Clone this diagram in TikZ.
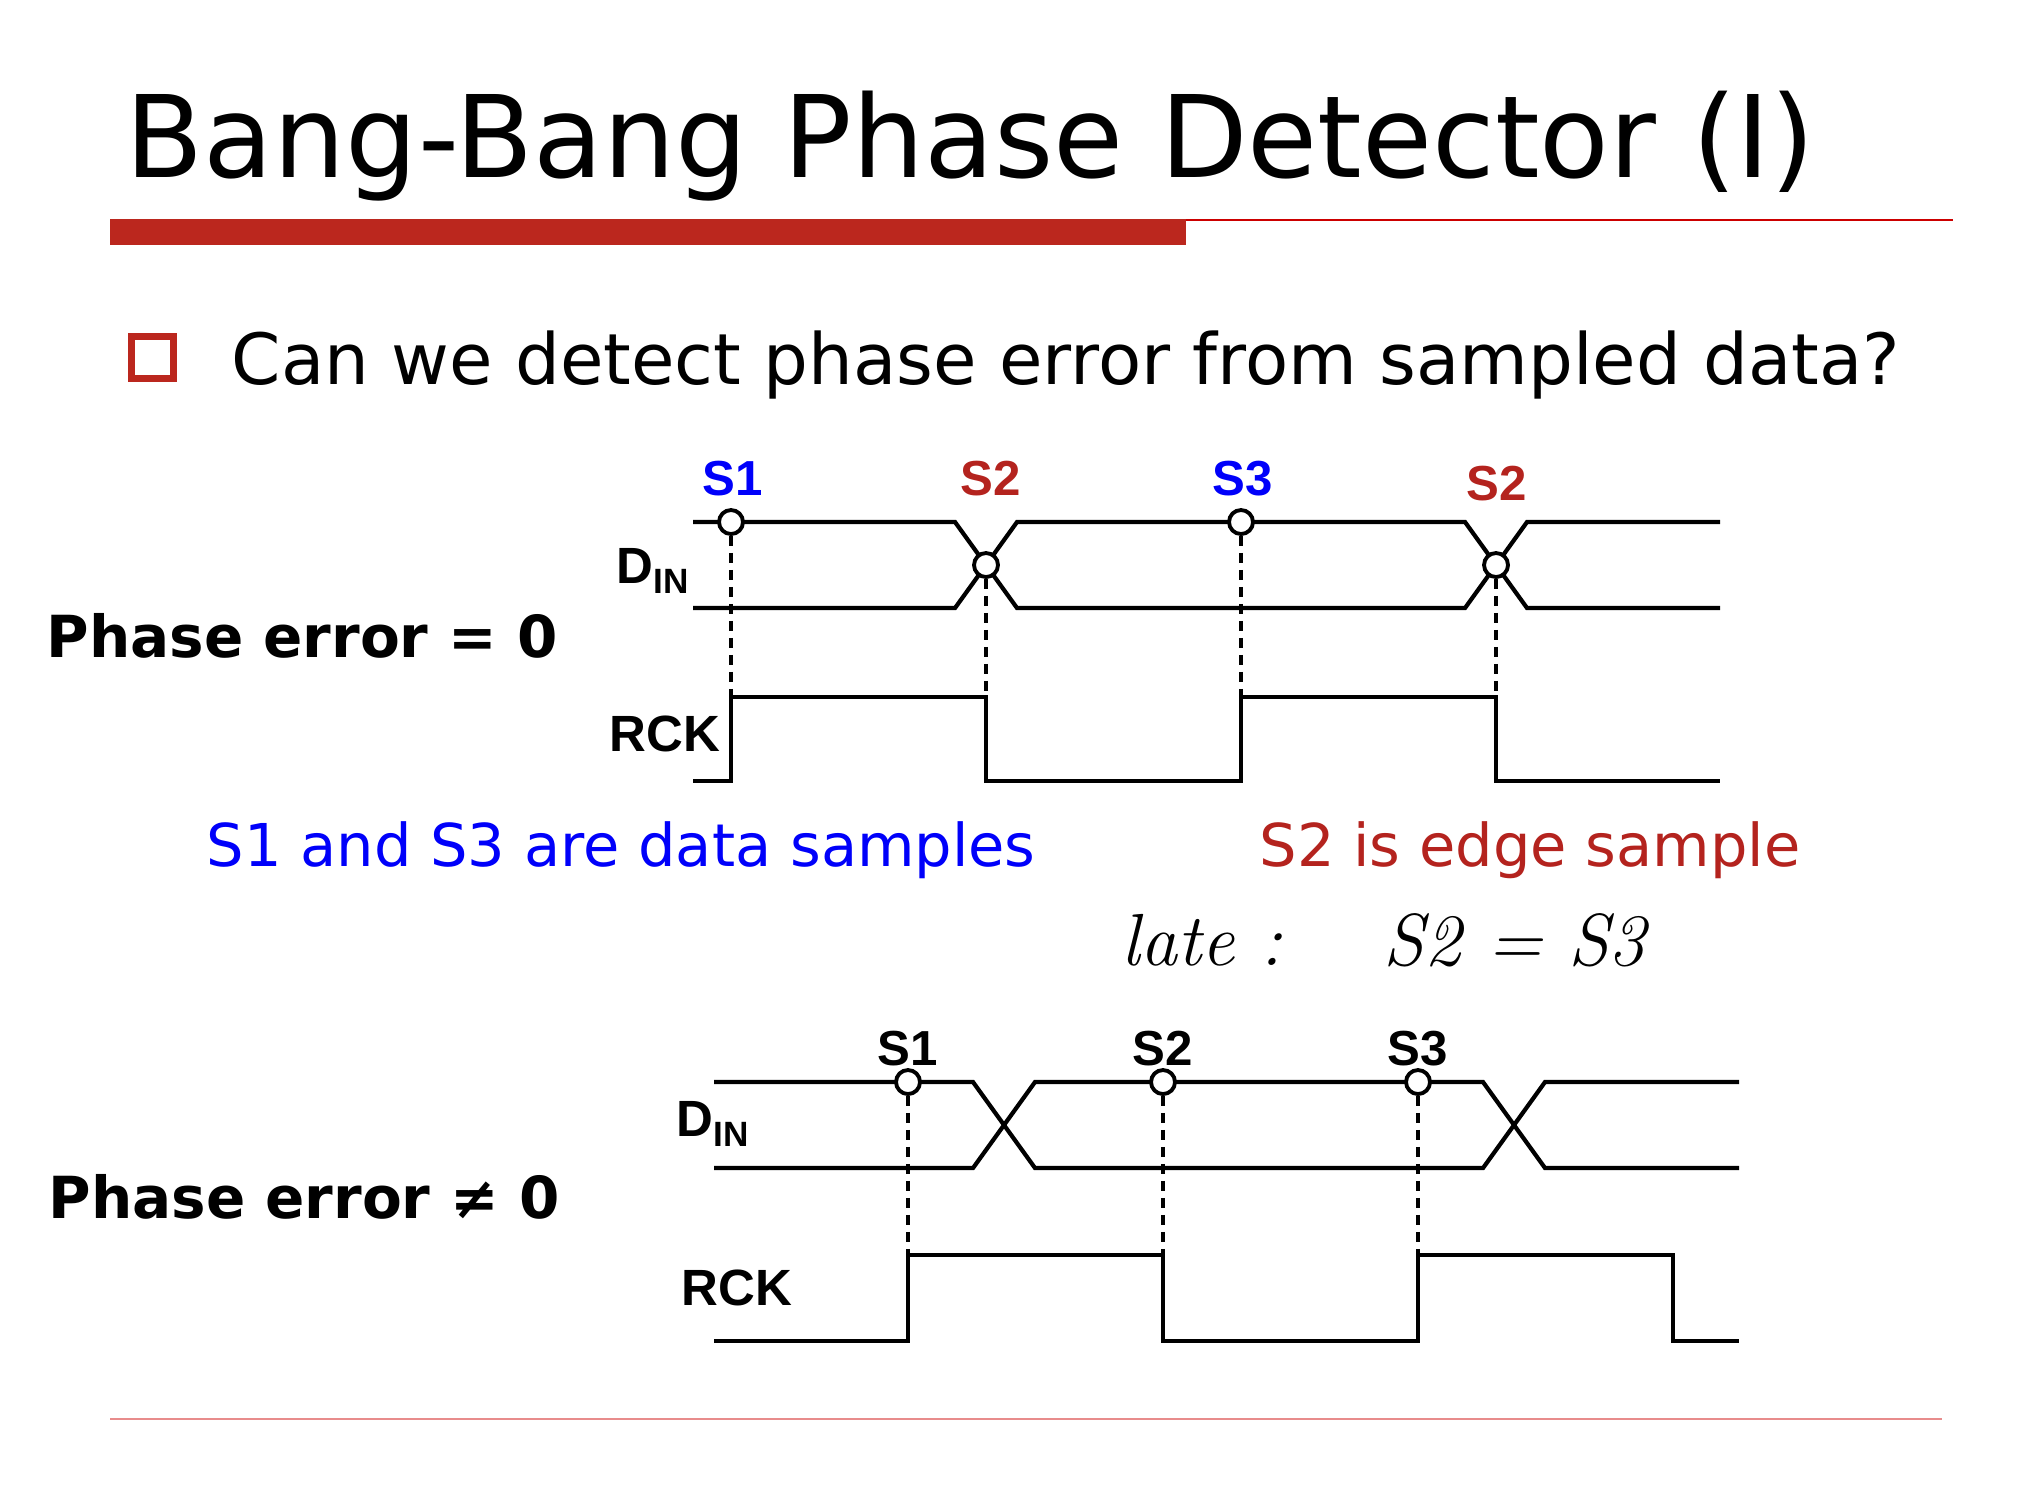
\documentclass[tikz,border=0pt]{standalone}
\usepackage{fontspec}
\newfontfamily\slidefont{DejaVu Sans}
\newfontfamily\sigfont{Liberation Sans}
\definecolor{barred}{RGB}{187,39,30}
\definecolor{linered}{RGB}{204,0,0}
\definecolor{footred}{RGB}{232,140,140}
\definecolor{edgered}{RGB}{180,35,30}
\definecolor{datablue}{RGB}{0,0,250}
\begin{document}
\begin{tikzpicture}[x=0.1mm,y=-0.1mm,
  sig/.style={line width=1.2pt},
  probe/.style={line width=1.15pt, dash pattern=on 1.0mm off 0.7mm},
  smp/.style={circle, draw, fill=white, line width=1.1pt, inner sep=0pt, minimum size=2.4mm},
  lbl/.style={font=\sigfont\bfseries\fontsize{14pt}{16pt}\selectfont, inner sep=0pt, anchor=base},
  sname/.style={font=\sigfont\bfseries\fontsize{14.5pt}{17pt}\selectfont, inner sep=0pt, anchor=base west},
  case/.style={font=\slidefont\bfseries\fontsize{16.5pt}{20pt}\selectfont, inner sep=0pt, anchor=base west},
  note/.style={font=\slidefont\fontsize{16.8pt}{20pt}\selectfont, inner sep=0pt, anchor=base west}]
\useasboundingbox (0,0) rectangle (2040,1504);
\def\sub#1{\raisebox{-0.2em}{\fontsize{10pt}{10pt}\selectfont #1}}

% header
\node[font=\slidefont\fontsize{32.4pt}{38pt}\selectfont, inner sep=0pt, anchor=base west] (title) at (125,177) {Bang-Bang Phase Detector (I)};
\fill[barred] (110,219) rectangle (1186,245);
\draw[linered, line width=0.6pt] (1186,220) -- (1953,220);
\draw[barred, line width=0.7mm] (131,336) rectangle (173,378);
\node[font=\slidefont\fontsize{20.1pt}{24pt}\selectfont, inner sep=0pt, anchor=base west] (ask) at (231,384) {Can we detect phase error from sampled data?};

%%%%% phase error = 0
\node[case] (pe0) at (46,657) {Phase error = 0};
\node[sname] (din1) at (616,583) {D\sub{IN}};
\node[sname] (rck1) at (609,751) {RCK};
\draw[sig] (693,522) -- (955,522) -- (1017,608) -- (1465,608) -- (1527,522) -- (1720,522);
\draw[sig] (693,608) -- (955,608) -- (1017,522) -- (1465,522) -- (1527,608) -- (1720,608);
\draw[sig] (693,781) -- (731,781) -- (731,697) -- (986,697) -- (986,781) -- (1241,781)
  -- (1241,697) -- (1496,697) -- (1496,781) -- (1720,781);
\foreach \x/\y/\n in {731/522/1, 986/565/2, 1241/522/3, 1496/565/4}{
  \coordinate (ra\n) at (\x,697);
  \node[smp] (a\n) at (\x,\y) {};
  \draw[probe] (a\n) -- (ra\n);
}
\foreach \x/\y/\t/\c in {733/495/S1/datablue, 991/495/S2/edgered, 1243/495/S3/datablue, 1497/500/S2/edgered}{
  \node[lbl, text=\c] (la\x) at (\x,\y) {\t};
}
\node[note, text=datablue] (datanote) at (206,866) {S1 and S3 are data samples};
\node[note, text=edgered] (edgenote) at (1259,866) {S2 is edge sample};
\node[font=\itshape\fontsize{21pt}{24pt}\selectfont, inner sep=0pt, anchor=base west] (late) at (1121,965) {late :};
\node[font=\itshape\fontsize{21pt}{24pt}\selectfont, inner sep=0pt, anchor=base west] (rel) at (1383,965) {S2 = S3};

%%%%% phase error != 0
\node[case] (pe1) at (48,1218) {Phase error ≠ 0};
\node[sname] (din2) at (676,1136) {D\sub{IN}};
\node[sname] (rck2) at (681,1305) {RCK};
\draw[sig] (714,1082) -- (973,1082) -- (1035,1168) -- (1483,1168) -- (1545,1082) -- (1739,1082);
\draw[sig] (714,1168) -- (973,1168) -- (1035,1082) -- (1483,1082) -- (1545,1168) -- (1739,1168);
\draw[sig] (714,1341) -- (908,1341) -- (908,1255) -- (1163,1255) -- (1163,1341) -- (1418,1341)
  -- (1418,1255) -- (1673,1255) -- (1673,1341) -- (1739,1341);
\foreach \x/\n in {908/1, 1163/2, 1418/3}{
  \coordinate (rb\n) at (\x,1255);
  \node[smp] (b\n) at (\x,1082) {};
  \draw[probe] (b\n) -- (rb\n);
  \node[lbl] (lb\n) at (\x,1065) {S\n};
}

% footer
\draw[footred, line width=0.6pt] (110,1419) -- (1942,1419);
\end{tikzpicture}
\end{document}
